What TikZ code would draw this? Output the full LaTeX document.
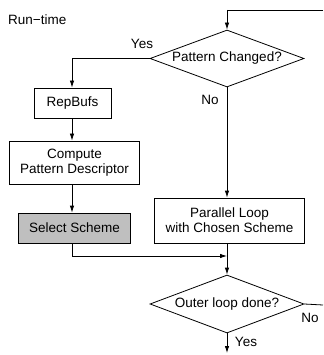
\documentclass[tikz,border=0pt]{standalone}
\usepackage{fontspec}
\setmainfont{Liberation Sans}
\usetikzlibrary{shapes.geometric,arrows.meta}
\begin{document}
\begin{tikzpicture}[x=1pt,y=-1pt,
  every node/.style={font=\fontsize{13.5}{15}\selectfont},
  line/.style={draw, line width=0.8pt},
  arr/.style={line, -{Latex[length=7pt,width=4.5pt]}},
  box/.style={draw, line width=0.8pt, rectangle, inner sep=0pt, align=center},
  dec/.style={draw, line width=0.8pt, diamond, aspect=2.7, inner sep=0pt, minimum width=154pt, minimum height=57pt},
  lbl/.style={inner sep=0pt}]
\useasboundingbox (0,0) rectangle (323,355);
\node[lbl, anchor=west] (rt) at (8,20) {Run−time};
\coordinate (topR) at (323,10);
\coordinate (topL) at (227,10);
\node[dec] (d1) at (227,58.5) {Pattern Changed?};
\node[lbl] (yes1) at (142,44) {Yes};
\node[lbl] (no1) at (210,100) {No};
\node[box, minimum width=77pt, minimum height=30pt] (rep) at (72.5,103) {RepBufs};
\node[box, minimum width=130pt, minimum height=43pt] (comp) at (74.5,162.5) {Compute\\Pattern Descriptor};
\node[box, minimum width=112pt, minimum height=30pt, fill=gray!50] (sel) at (74.5,228) {Select Scheme};
\node[box, minimum width=150pt, minimum height=45pt] (par) at (229.5,220.5) {Parallel Loop\\with Chosen Scheme};
\coordinate (merge) at (227,256);
\node[dec, minimum height=58pt] (d2) at (227,304) {Outer loop done?};
\coordinate (exitR) at (323,305);
\coordinate (exitB) at (227,353);
\node[lbl] (no2) at (310,318) {No};
\node[lbl] (yes2) at (246,342) {Yes};

\draw[line] (topR) -- (topL);
\draw[arr] (topL) -- (d1.north);
\draw[arr] (d1.west) -| (rep.north -| 72,0);
\draw[arr] (rep.south -| 72,0) -- (comp.north -| 72,0);
\draw[arr] (comp.south -| 72,0) -- (sel.north -| 72,0);
\draw[arr] (d1.south) -- (d1.south |- par.north);
\draw[arr] (sel.south -| 72,0) |- (merge);
\draw[arr] (par.south -| d2.north) -- (d2.north);
\draw[line] (d2.east) -- (exitR);
\draw[arr] (d2.south) -- (exitB);
\end{tikzpicture}
\end{document}
